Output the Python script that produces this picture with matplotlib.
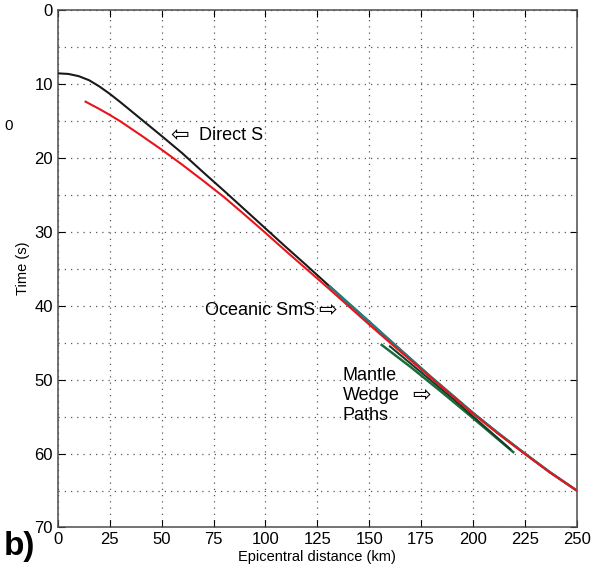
import matplotlib
matplotlib.use("Agg")
import matplotlib.pyplot as plt
from matplotlib.ticker import MultipleLocator

plt.rcParams['font.family'] = ['Liberation Sans', 'DejaVu Sans']

# Direct S (black)
direct_x = [0, 5, 10, 15, 20, 25, 30, 35, 40, 45, 50, 60, 70, 80, 90, 100, 110, 120,
            130, 140, 150, 160, 170, 180, 190, 200, 212, 225, 237, 250]
direct_t = [8.57, 8.65, 8.95, 9.5, 10.35, 11.35, 12.45, 13.6, 14.75, 15.9, 17.05, 19.4,
            21.95, 24.45, 27.0, 29.55, 32.1, 34.6, 37.15, 39.7, 42.2, 44.7, 47.2, 49.7,
            52.1, 54.5, 57.2, 60.0, 62.5, 65.0]

# Red curve
red_x = [13.3, 20, 25, 30, 40, 50, 60, 70, 80, 90, 100, 110, 120, 130, 140, 150, 160,
         170, 180, 190, 200, 212, 225, 237, 250]
red_t = [12.4, 13.4, 14.2, 15.05, 16.95, 18.9, 20.95, 23.1, 25.3, 27.7, 30.15, 32.65, 35.1,
         37.55, 40.05, 42.55, 45.0, 47.4, 49.8, 52.2, 54.6, 57.3, 60.05, 62.55, 65.0]

# Oceanic SmS (teal)
sms_x = [131, 140, 150, 160, 170, 180, 190, 200, 212, 225, 237, 250]
sms_t = [37.4, 39.65, 42.15, 44.7, 47.2, 49.7, 52.1, 54.5, 57.2, 60.0, 62.5, 65.0]

# Mantle wedge paths (dark green)
mw1_x = [156, 170, 185, 200, 219.4]
mw1_t = [45.3, 48.3, 51.7, 55.2, 59.8]
mw2_x = [160, 175, 190, 205, 218]
mw2_t = [45.5, 49.0, 52.5, 56.2, 59.4]

fig = plt.figure(figsize=(6.02, 5.71), dpi=100)
ax = fig.add_axes([0.0963, 0.0762, 0.8617, 0.9063])

ax.plot(direct_x, direct_t, color='#1a1a1a', lw=1.5, zorder=4)
ax.plot(sms_x, sms_t, color='#1f7f80', lw=1.8, zorder=5)
ax.plot(mw1_x, mw1_t, color='#1d6b3c', lw=1.8, zorder=5)
ax.plot(mw2_x, mw2_t, color='#123f25', lw=1.5, zorder=5)
ax.plot(red_x, red_t, color='#e8141c', lw=1.5, zorder=6)

ax.set_xlim(0, 250)
ax.set_ylim(70, 0)
ax.xaxis.set_major_locator(MultipleLocator(25))
ax.yaxis.set_major_locator(MultipleLocator(10))
ax.yaxis.set_minor_locator(MultipleLocator(5))
ax.grid(True, which='both', linestyle=(0, (1, 4)), color='0.35', lw=0.9)
ax.tick_params(which='both', direction='in', top=True, right=True, labelsize=12)
ax.tick_params(which='major', length=5)
ax.tick_params(which='minor', length=0)
for s in ax.spines.values():
    s.set_linewidth(1.1)
    s.set_color('0.3')

ax.set_xlabel('Epicentral distance (km)', fontsize=10.5, labelpad=2)
ax.set_ylabel('Time (s)', fontsize=10.5, labelpad=3)

ax.text(54.0, 16.9, '\u21e6', fontsize=16, va='center', ha='left', zorder=7)
ax.text(68.0, 17.0, 'Direct S', fontsize=13, va='center', ha='left', zorder=7)
ax.text(70.8, 40.6, 'Oceanic SmS', fontsize=13, va='center', ha='left', zorder=7)
ax.text(125.5, 40.5, '\u21e8', fontsize=16, va='center', ha='left', zorder=7)
ax.text(137.3, 49.4, 'Mantle', fontsize=13, va='center', ha='left', zorder=7)
ax.text(137.3, 52.1, 'Wedge', fontsize=13, va='center', ha='left', zorder=7)
ax.text(170.5, 52.0, '\u21e8', fontsize=16, va='center', ha='left', zorder=7)
ax.text(137.3, 54.8, 'Paths', fontsize=13, va='center', ha='left', zorder=7)

fig.text(0.006, 0.016, 'b)', fontsize=24, fontweight='bold', ha='left', va='bottom')
fig.text(0.008, 0.78, '0', fontsize=11, ha='left', va='center')

fig.savefig('out.png', dpi=100)
